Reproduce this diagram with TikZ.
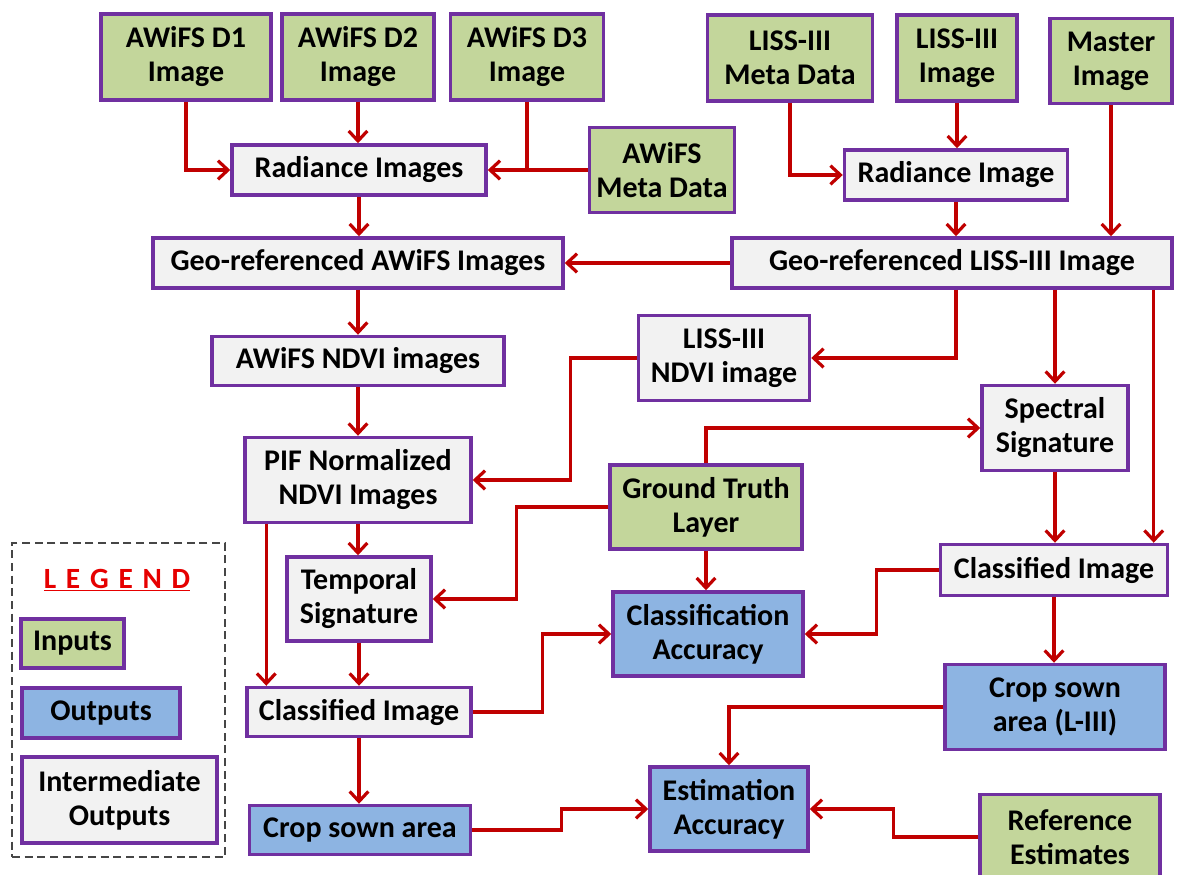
\documentclass[tikz,border=0pt]{standalone}
\usepackage{fontspec}
\setmainfont{Carlito}
\usetikzlibrary{arrows.meta,calc}
\definecolor{inp}{RGB}{195,214,155}
\definecolor{outp}{RGB}{141,180,226}
\definecolor{midp}{RGB}{242,242,242}
\definecolor{bord}{RGB}{112,48,160}
\definecolor{arr}{RGB}{192,0,0}
\definecolor{legred}{RGB}{230,0,0}
\definecolor{dashgray}{RGB}{70,70,70}
\begin{document}
\begin{tikzpicture}[x=0.75pt,y=-0.75pt,
  box/.style={draw=bord,line width=2.6pt,inner sep=0pt,align=center,
    font=\fontsize{22.5}{25.5}\selectfont\bfseries},
  sz/.style 2 args={minimum width=#1*0.75pt,minimum height=#2*0.75pt},
  inbox/.style={box,fill=inp},
  outbox/.style={box,fill=outp},
  midbox/.style={box,fill=midp},
  ln/.style={draw=arr,line width=2.4pt},
  ar/.style={ln,-{Straight Barb[length=7.5pt,width=14pt,line width=2.4pt]}}]
\useasboundingbox (0,0) rectangle (1179,875);
\fill[white] (0,0) rectangle (1179,875);
% inputs row
\node[inbox,sz={170}{86}] (d1) at (186,57) {AWiFS D1\\Image};
\node[inbox,sz={152}{86}] (d2) at (358,57) {AWiFS D2\\Image};
\node[inbox,sz={153}{86}] (d3) at (527,57) {AWiFS D3\\Image};
\node[inbox,sz={165}{86}] (lmeta) at (790,58) {LISS-III\\Meta Data};
\node[inbox,sz={120}{86}] (limg) at (957,58) {LISS-III\\Image};
\node[inbox,sz={122}{85}] (master) at (1111,61) {Master\\Image};
% radiance
\node[midbox,sz={254}{50}] (rad) at (359,170) {Radiance Images};
\node[inbox,sz={145}{85}] (awmeta) at (662,170) {AWiFS\\Meta Data};
\node[midbox,sz={223}{50}] (lrad) at (956,175) {Radiance Image};
% geo
\node[midbox,sz={410}{50}] (geoaw) at (358,263) {Geo-referenced AWiFS Images};
\node[midbox,sz={440}{50}] (geol) at (952,263) {Geo-referenced LISS-III Image};
% ndvi
\node[midbox,sz={292}{49}] (awndvi) at (358,361) {AWiFS NDVI images};
\node[midbox,sz={171}{85}] (lndvi) at (724,358) {LISS-III\\NDVI image};
\node[midbox,sz={146}{85}] (spec) at (1055,428) {Spectral\\Signature};
\node[midbox,sz={226}{85}] (pif) at (358,480) {PIF Normalized\\NDVI Images};
\node[inbox,sz={192}{84}] (gt) at (706,507) {Ground Truth\\Layer};
\node[midbox,sz={144}{84}] (temp) at (359,599) {Temporal\\Signature};
\node[midbox,sz={227}{51}] (cr) at (1054,570) {Classified Image};
\node[outbox,sz={190}{84}] (ca) at (708,634) {Classification\\Accuracy};
\node[outbox,sz={220}{85}] (cs3) at (1055,707) {Crop sown\\area (L-III)};
\node[midbox,sz={224}{49}] (cl) at (359,712) {Classified Image};
\node[outbox,sz={158}{84}] (ea) at (729,809) {Estimation\\Accuracy};
\node[outbox,sz={221}{49}] (cs) at (360,830) {Crop sown area};
\node[inbox,sz={180}{85}] (ref) at (1070,837) {Reference\\Estimates};
% legend
\node[draw=dashgray,line width=1.8pt,dash pattern=on 6pt off 3.5pt,sz={213}{314},inner sep=0pt] (legbox) at (118.5,700) {};
\node[font=\fontsize{22}{24}\selectfont\bfseries,text=legred,inner sep=0pt] (legt) at (117,580) {\underline{L\,\,E\,\,G\,\,E\,\,N\,\,D}};
\node[inbox,sz={103}{49}] (li) at (72.5,643.5) {Inputs};
\node[outbox,sz={158}{50}] (lo) at (101,713) {Outputs};
\node[midbox,sz={195}{86}] (lm) at (119.5,800) {Intermediate\\Outputs};
% connectors
\draw[ar] (d1.south) |- (rad.west);
\draw[ar] (d2.south) -- (d2.south |- rad.north);
\draw[ln] (d3.south) -- (d3.south |- rad.east);
\draw[ar] (awmeta.west) -- (rad.east);
\draw[ar] (lmeta.south) |- (lrad.west);
\draw[ar] (limg.south) -- (limg.south |- lrad.north);
\draw[ar] (rad.south) -- (rad.south |- geoaw.north);
\draw[ar] (lrad.south) -- (lrad.south |- geol.north);
\draw[ar] (master.south) -- (master.south |- geol.north);
\draw[ar] (geol.west) -- (geol.west -| geoaw.east);
\draw[ar] (geoaw.south) -- (geoaw.south |- awndvi.north);
\draw[ar] (lrad.south |- geol.south) |- (lndvi.east);
\draw[ar] (spec.north |- geol.south) -- (spec.north);
\coordinate (g3) at ($(geol.south east)+(-20,0)$);
\draw[ar] (g3) -- (g3 |- cr.north);
\draw[ar] (awndvi.south) -- (awndvi.south |- pif.north);
\draw[ar] (lndvi.west) -- ++(-66,0) |- (pif.east);
\draw[ar] (gt.north) |- (spec.west);
\draw[ar] (gt.west) -- ++(-92,0) |- (temp.east);
\draw[ar] (gt.south) -- (gt.south |- ca.north);
\draw[ar] (pif.south) -- (pif.south |- temp.north);
\coordinate (p2) at ($(pif.south west)+(23,0)$);
\draw[ar] (p2) -- (p2 |- cl.north);
\draw[ar] (temp.south) -- (temp.south |- cl.north);
\draw[ar] (spec.south) -- (spec.south |- cr.north);
\draw[ar] (cr.west) -- ++(-62,0) |- (ca.east);
\draw[ar] (cl.east) -- ++(70,0) |- (ca.west);
\draw[ar] (cr.south) -- (cr.south |- cs3.north);
\draw[ar] (cs3.west) -| (ea.north);
\draw[ar] (cl.south) -- (cl.south |- cs.north);
\draw[ar] (cs.east) -- ++(89,0) |- (ea.west);
\draw[ar] (ref.west) -- ++(-85,0) |- (ea.east);
\end{tikzpicture}
\end{document}
